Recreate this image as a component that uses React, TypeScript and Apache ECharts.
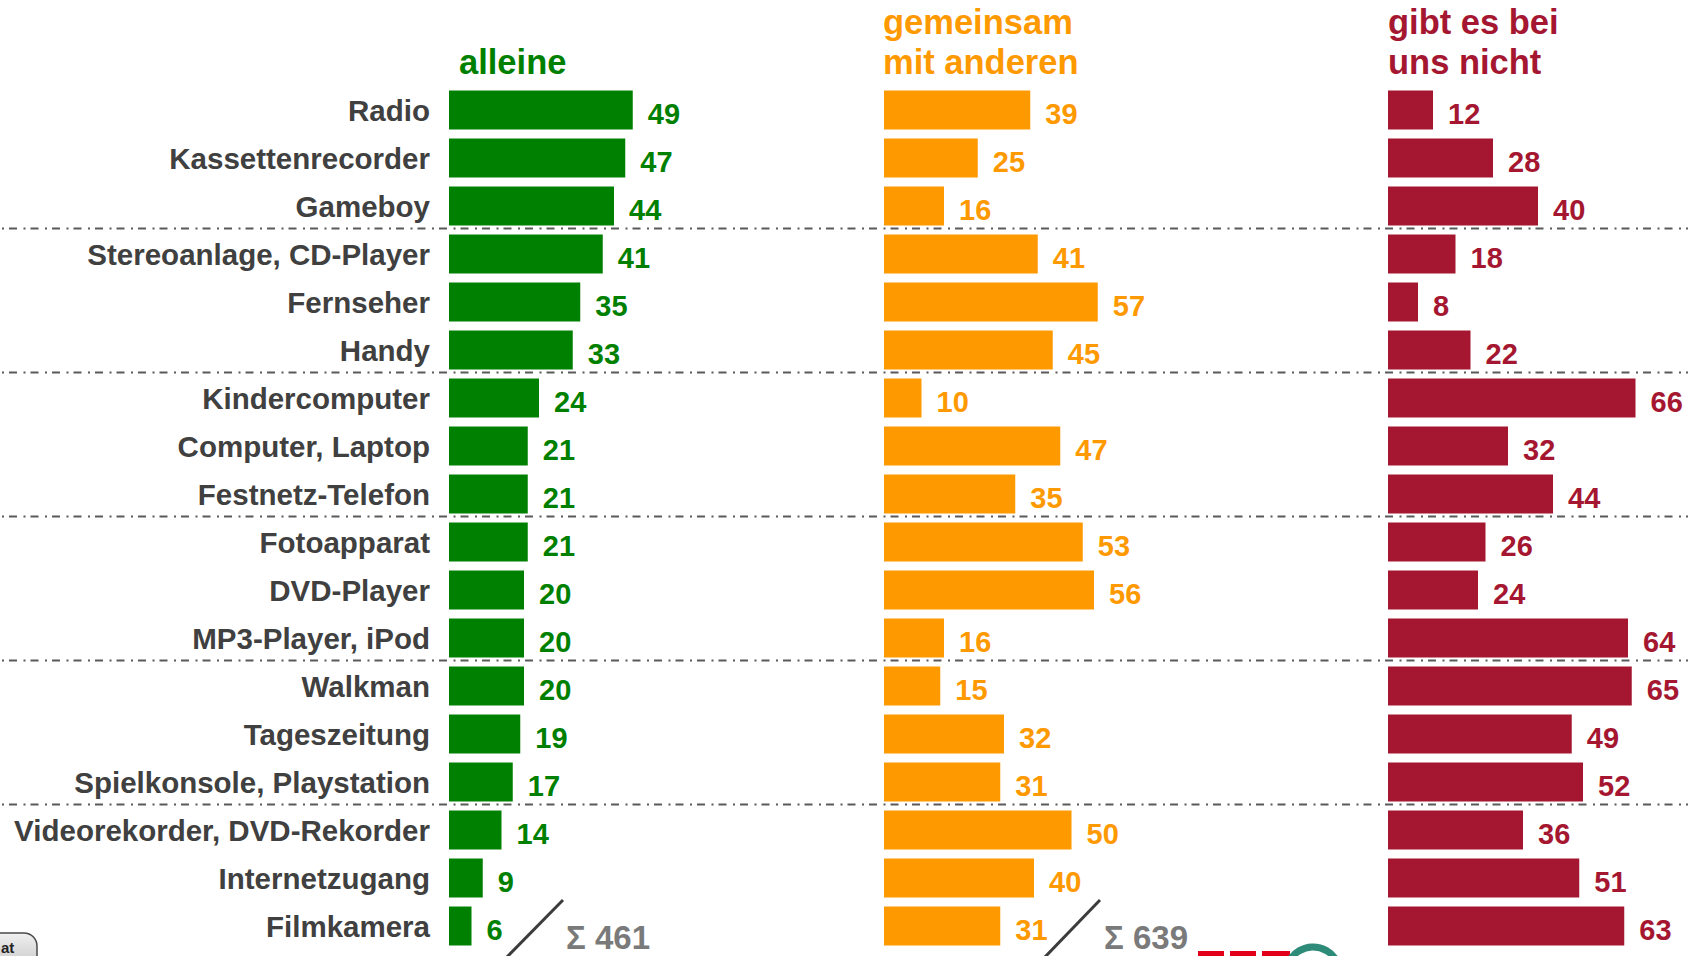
import React, { useEffect, useRef } from "react";
import * as echarts from "echarts";

const categories = [
  "Radio",
  "Kassettenrecorder",
  "Gameboy",
  "Stereoanlage, CD-Player",
  "Fernseher",
  "Handy",
  "Kindercomputer",
  "Computer, Laptop",
  "Festnetz-Telefon",
  "Fotoapparat",
  "DVD-Player",
  "MP3-Player, iPod",
  "Walkman",
  "Tageszeitung",
  "Spielkonsole, Playstation",
  "Videorekorder, DVD-Rekorder",
  "Internetzugang",
  "Filmkamera",
];

const alleine = [49, 47, 44, 41, 35, 33, 24, 21, 21, 21, 20, 20, 20, 19, 17, 14, 9, 6];
const gemeinsam = [39, 25, 16, 41, 57, 45, 10, 47, 35, 53, 56, 16, 15, 32, 31, 50, 40, 31];
const gibtNicht = [12, 28, 40, 18, 8, 22, 66, 32, 44, 26, 24, 64, 65, 49, 52, 36, 51, 63];

const seriesNames = ["alleine", "gemeinsam mit anderen", "gibt es bei uns nicht"];
const titleLines = [["alleine"], ["gemeinsam", "mit anderen"], ["gibt es bei", "uns nicht"]];
const sumLabels = ["Σ 461", "Σ 639"];
const separatorsAfter = ["Gameboy", "Handy", "Festnetz-Telefon", "MP3-Player, iPod", "Spielkonsole, Playstation"];

const GREEN = "#008000";
const ORANGE = "#FF9900";
const RED = "#A51731";
const FONT = "'Liberation Sans', Arial, Helvetica, sans-serif";

export default function App() {
  const ref = useRef<HTMLDivElement>(null);

  useEffect(() => {
    if (!ref.current) return;
    const chart = echarts.init(ref.current, null, { renderer: "svg" });
    const colors = [GREEN, ORANGE, RED];
    const lefts = [449, 884, 1388];
    const datas = [alleine, gemeinsam, gibtNicht];
    const TOP = 86;
    const H = 864;

    const grids = lefts.map((l) => ({ left: l, top: TOP, width: 300, height: H }));
    const xAxes = lefts.map((_, i) => ({
      type: "value",
      gridIndex: i,
      min: 0,
      max: 80,
      show: false,
    }));
    const yAxes = lefts.map((_, i) => ({
      type: "category",
      gridIndex: i,
      data: categories,
      inverse: true,
      axisLine: { show: false },
      axisTick: { show: false },
      splitLine: { show: false },
      axisLabel:
        i === 0
          ? {
              show: true,
              margin: 19,
              fontFamily: FONT,
              fontSize: 29.5,
              fontWeight: "bold",
              color: "#404040",
              padding: [9, 0, 0, 0],
            }
          : { show: false },
    }));
    const series = datas.map((d, i) => ({
      type: "bar",
      name: seriesNames[i],
      xAxisIndex: i,
      yAxisIndex: i,
      data: d,
      barWidth: 39,
      itemStyle: { color: colors[i] },
      label: {
        show: true,
        position: "right",
        distance: 15,
        offset: [0, 3.5],
        fontFamily: FONT,
        fontSize: 29,
        fontWeight: "bold",
        color: colors[i],
      },
    }));

    chart.setOption({
      animation: false,
      backgroundColor: "#ffffff",
      grid: grids,
      xAxis: xAxes,
      yAxis: yAxes,
      series,
    });

    const graphics: any[] = [];
    // titles
    const titleX = [459, 883, 1388];
    titleLines.forEach((lines, i) => {
      const baselines = lines.length === 1 ? [74] : [34, 74];
      lines.forEach((t, j) => {
        graphics.push({
          type: "text",
          id: `title-${i}-${j}`,
          x: titleX[i],
          y: baselines[j] - 12,
          style: {
            text: t,
            fill: colors[i],
            font: `bold 34.5px ${FONT}`,
            verticalAlign: "middle",
            align: "left",
          },
        });
      });
    });

    // separators between groups
    separatorsAfter.forEach((name, k) => {
      const idx = categories.indexOf(name);
      const y1 = chart.convertToPixel({ yAxisIndex: 0 }, idx) as number;
      const y2 = chart.convertToPixel({ yAxisIndex: 0 }, idx + 1) as number;
      const y = Math.round((y1 + y2) / 2) - 1.5;
      graphics.push({
        type: "line",
        id: `sep-${k}`,
        z: 100,
        shape: { x1: 0, y1: y, x2: 1688, y2: y },
        style: { stroke: "#5a5a5a", lineWidth: 2, lineDash: [2, 5, 8, 6.5], lineDashOffset: -2 },
      });
    });

    // sum annotations
    const diag = [
      { x1: 506, y1: 958, x2: 563, y2: 900 },
      { x1: 1044, y1: 958, x2: 1100, y2: 900 },
    ];
    const sumX = [566, 1104];
    diag.forEach((s, i) => {
      graphics.push({
        type: "line",
        id: `diag-${i}`,
        shape: s,
        style: { stroke: "#3c3c3c", lineWidth: 3 },
      });
      graphics.push({
        type: "text",
        id: `sum-${i}`,
        x: sumX[i],
        y: 937,
        style: {
          text: sumLabels[i],
          fill: "#7a7a7a",
          font: `bold 33px ${FONT}`,
          verticalAlign: "middle",
          align: "left",
        },
      });
    });

    // partial logo at the bottom
    graphics.push(
      { type: "rect", id: "logo-r1", shape: { x: 1198, y: 951, width: 26, height: 8 }, style: { fill: "#E2001A" } },
      { type: "rect", id: "logo-r2", shape: { x: 1230, y: 951, width: 26, height: 8 }, style: { fill: "#E2001A" } },
      { type: "rect", id: "logo-r3", shape: { x: 1262, y: 951, width: 28, height: 8 }, style: { fill: "#E2001A" } },
      {
        type: "circle",
        id: "logo-c",
        shape: { cx: 1313, cy: 974, r: 27 },
        style: { fill: "none", stroke: "#2E8B7A", lineWidth: 7 },
      }
    );

    // partial button bottom-left
    graphics.push(
      {
        type: "rect",
        id: "btn",
        shape: { x: -20, y: 933, width: 57, height: 44, r: 13 },
        style: {
          fill: new echarts.graphic.LinearGradient(0, 0, 0, 1, [
            { offset: 0, color: "#f0f0f0" },
            { offset: 1, color: "#bdbdbd" },
          ]),
          stroke: "#4a4a4a",
          lineWidth: 1.5,
        },
      },
      {
        type: "text",
        id: "btn-t",
        x: 1,
        y: 947,
        style: { text: "at", fill: "#222", font: `bold 15px ${FONT}`, verticalAlign: "middle", align: "left" },
      }
    );

    chart.setOption({ graphic: graphics });

    return () => chart.dispose();
  }, []);

  return (
    <div
      ref={ref}
      style={{ position: "absolute", left: 0, top: 0, width: 1688, height: 956, background: "#fff" }}
    />
  );
}
